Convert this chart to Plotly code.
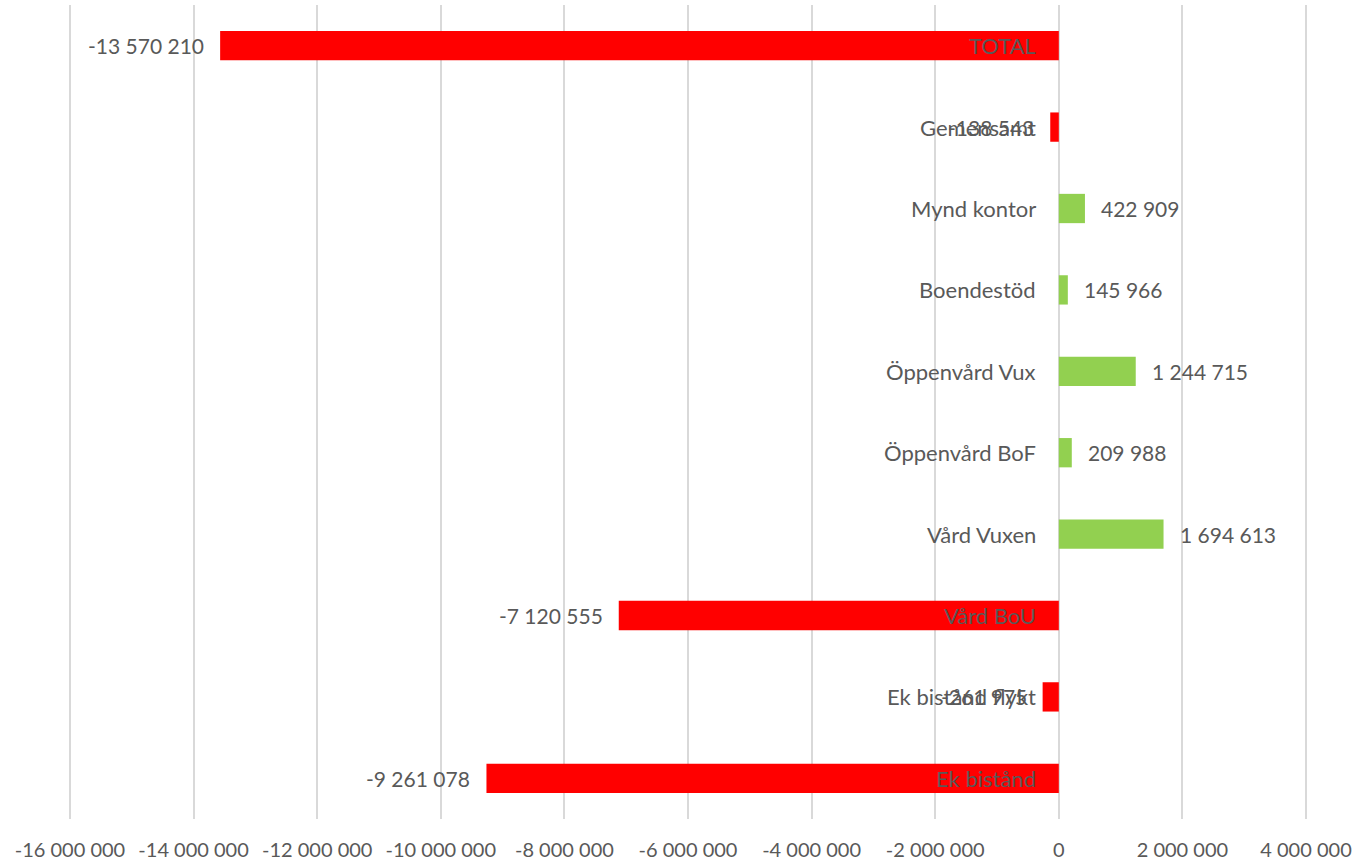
import plotly.graph_objects as go

categories = ["TOTAL", "Gemensamt", "Mynd kontor", "Boendestöd", "Öppenvård Vux",
              "Öppenvård BoF", "Vård Vuxen", "Vård BoU", "Ek bistånd flykt", "Ek bistånd"]
values = [-13570210, -138543, 422909, 145966, 1244715, 209988, 1694613, -7120555, -261975, -9261078]
tick_vals = list(range(-16000000, 4000001, 2000000))

def fmt(v):
    s = f"{abs(v):,}".replace(",", " ")
    return ("-" if v < 0 else "") + s

tick_text = [fmt(v) for v in tick_vals]
colors = ["#FF0000" if v < 0 else "#92D050" for v in values]

FONT = "Lato"
GRAY = "#595959"

fig = go.Figure()
fig.add_trace(go.Bar(
    x=values, y=categories, orientation="h",
    marker=dict(color=colors, line=dict(width=0)),
    hoverinfo="skip",
))

annotations = []
for c, v in zip(categories, values):
    annotations.append(dict(
        x=v, y=c, xref="x", yref="y", text=fmt(v), showarrow=False,
        xanchor="left" if v >= 0 else "right",
        xshift=14 if v >= 0 else -14,
        font=dict(family=FONT, size=21, color=GRAY),
    ))
    annotations.append(dict(
        x=0, y=c, xref="x", yref="y", text=c, showarrow=False,
        xanchor="right", xshift=-21,
        font=dict(family=FONT, size=22, color=GRAY),
    ))

fig.update_layout(
    width=1362, height=864,
    margin=dict(l=68, r=54, t=5, b=45, autoexpand=False),
    paper_bgcolor="white", plot_bgcolor="white",
    showlegend=False,
    bargap=0.64,
    annotations=annotations,
    font=dict(family=FONT, size=20, color=GRAY),
    xaxis=dict(
        range=[-16032000, 4032000],
        tickvals=tick_vals, ticktext=tick_text,
        showgrid=True, gridcolor="#D9D9D9", gridwidth=1.5,
        zeroline=True, zerolinecolor="#D9D9D9", zerolinewidth=1.5,
        showline=False, ticks="", automargin=False,
        ticklabelstandoff=17,
        tickfont=dict(family=FONT, size=20, color=GRAY),
    ),
    yaxis=dict(
        categoryorder="array", categoryarray=categories,
        autorange="reversed", automargin=False,
        showticklabels=False, showgrid=False, zeroline=False, showline=False,
    ),
)

fig.write_html("out.html")
